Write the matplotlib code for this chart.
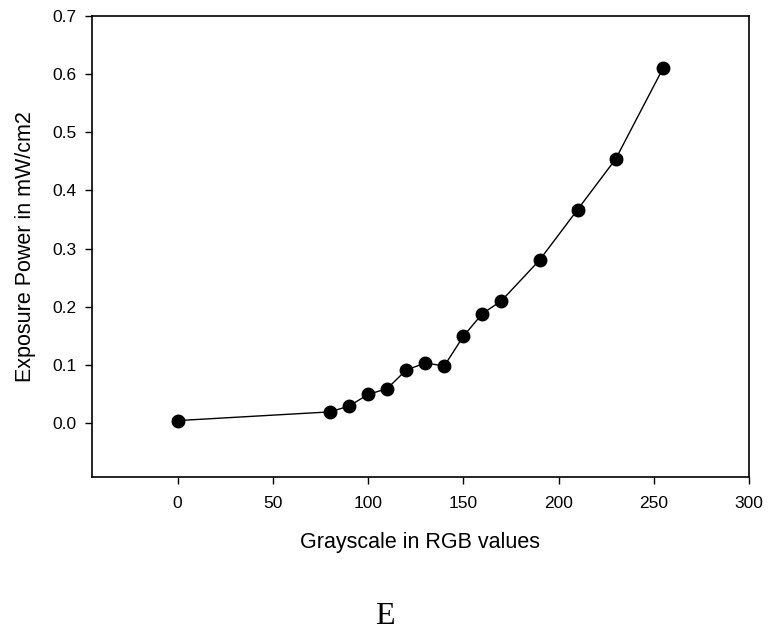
import numpy as np
import matplotlib.pyplot as plt

# grayscale level vs measured exposure power
gray = [0, 80, 90, 100, 110, 120, 130, 140, 150, 160, 170, 190, 210, 230, 255]
power = [0.004, 0.019, 0.029, 0.049, 0.059, 0.091, 0.103, 0.098, 0.149, 0.188, 0.21, 0.28, 0.367, 0.454, 0.611]
err = [0.005, 0.002, 0.002, 0.002, 0.002, 0.003, 0.003, 0.003, 0.002, 0.003, 0.002, 0.002, 0.005, 0.005, 0.002]

plt.rcParams['font.family'] = ['Liberation Sans', 'DejaVu Sans']

fig = plt.figure(figsize=(7.69, 6.3), dpi=100)
ax = fig.add_axes([0.1196, 0.2429, 0.8544, 0.7317])

ax.errorbar(gray, power, yerr=err, color='black', marker='o', markersize=9,
            linewidth=1, elinewidth=1, capsize=4, capthick=1)

ax.set_xlim(-45, 300)
ax.set_ylim(-0.093, 0.7)
ax.set_xticks([0, 50, 100, 150, 200, 250, 300])
ax.set_yticks([0.0, 0.1, 0.2, 0.3, 0.4, 0.5, 0.6, 0.7])
ax.set_yticklabels(['0.0', '0.1', '0.2', '0.3', '0.4', '0.5', '0.6', '0.7'])
ax.tick_params(direction='out', length=5, width=1, labelsize=12.5)
ax.tick_params(axis='x', pad=9)
ax.tick_params(axis='y', pad=6)
for s in ax.spines.values():
    s.set_linewidth(1.2)

ax.set_xlabel('Grayscale in RGB values', fontsize=15.5, labelpad=15)
ax.set_ylabel('Exposure Power in mW/cm2', fontsize=15.5, labelpad=12)

fig.text(0.5, 1 - 616 / 630, 'E', ha='center', va='center', fontsize=23, family='Liberation Serif')

plt.savefig('out.png', dpi=100)
